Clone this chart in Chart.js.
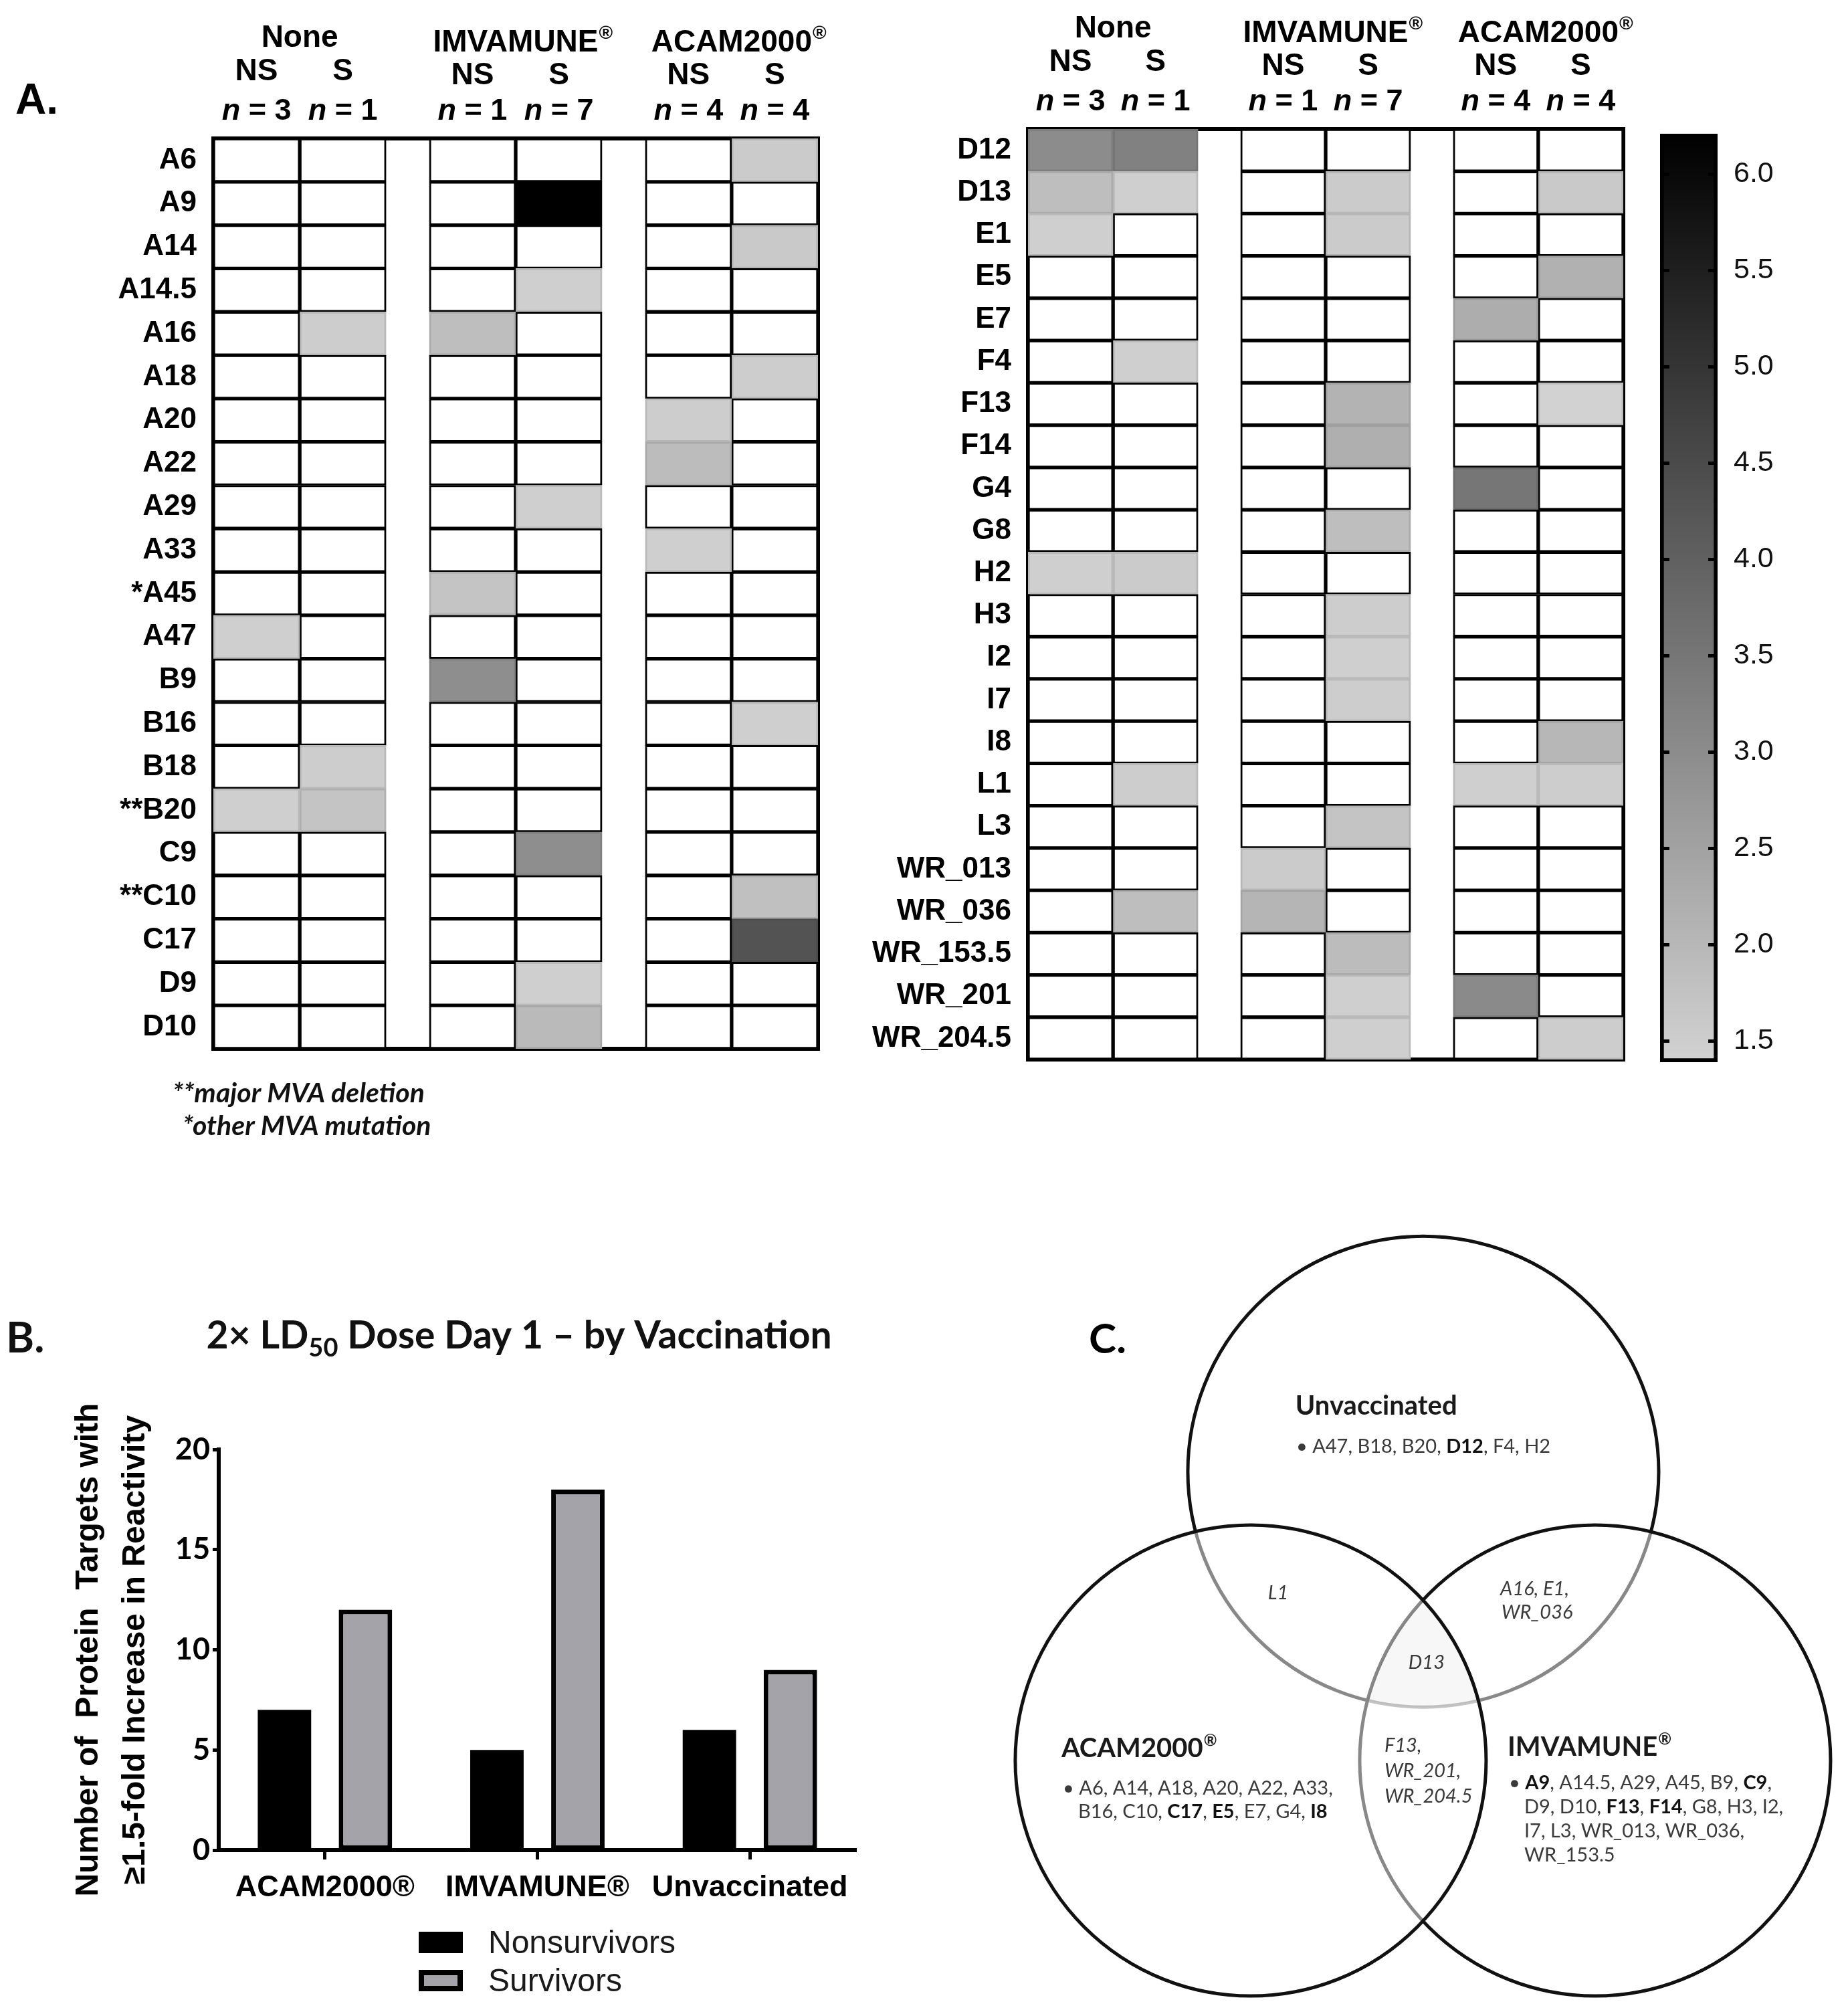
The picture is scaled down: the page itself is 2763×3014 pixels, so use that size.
<!DOCTYPE html>
<html>
<head>
<meta charset="utf-8">
<script src="https://cdn.jsdelivr.net/npm/chart.js@4.4.1/dist/chart.umd.min.js"></script>
<style>
  html, body { margin: 0; padding: 0; background: #ffffff; }
  #page { position: relative; width: 2763px; height: 3014px; background: #ffffff; overflow: hidden; }
  canvas { position: absolute; }
</style>
</head>
<body>
<div id="page">
  <canvas id="hmL" width="1300" height="1760" style="left:0px;top:0px;width:1300px;height:1760px"></canvas>
  <canvas id="hmR" width="1160" height="1760" style="left:1300px;top:0px;width:1160px;height:1760px"></canvas>
  <canvas id="cbar" width="323" height="1500" style="left:2440px;top:150px;width:323px;height:1500px"></canvas>
  <canvas id="barB" width="1400" height="1164" style="left:0px;top:1850px;width:1400px;height:1164px"></canvas>
  <canvas id="venn" width="1313" height="1214" style="left:1450px;top:1800px;width:1313px;height:1214px"></canvas>
</div>
<script>
// ---------------- DATA ----------------
// Panel A: fold increase in reactivity (null = below the 1.5-fold cut-off)
const groupNames   = ['None', 'IMVAMUNE', 'ACAM2000'];
const groupHasReg  = [false, true, true];
const outcomeLabels = ['NS', 'S', 'NS', 'S', 'NS', 'S'];
const groupSizes   = [3, 1, 1, 7, 4, 4];

const leftRows = ['A6','A9','A14','A14.5','A16','A18','A20','A22','A29','A33','*A45','A47','B9','B16','B18','**B20','C9','**C10','C17','D9','D10'];
const leftNoneNS = [null,null,null,null,null, null,null,null,null,null, null,1.45,null,null,null, 1.45,null,null,null,null, null];
const leftNoneS  = [null,null,null,null,1.5,  null,null,null,null,null, null,null,null,null,1.5,  1.7,null,null,null,null,  null];
const leftImvNS  = [null,null,null,null,1.85, null,null,null,null,null, 1.7,null,2.95,null,null, null,null,null,null,null, null];
const leftImvS   = [null,6.2,null,1.45,null,  null,null,null,1.45,null, null,null,null,null,null, null,2.95,null,null,1.45, 1.95];
const leftAcamNS = [null,null,null,null,null, null,1.5,1.9,null,1.45,   null,null,null,null,null, null,null,null,null,null, null];
const leftAcamS  = [1.55,null,1.6,null,null,  1.5,null,null,null,null,  null,null,null,1.45,null, null,null,1.8,4.3,null,  null];

const rightRows = ['D12','D13','E1','E5','E7','F4','F13','F14','G4','G8','H2','H3','I2','I7','I8','L1','L3','WR_013','WR_036','WR_153.5','WR_201','WR_204.5'];
const rightNoneNS = [3.0,1.85,1.45,null,null, null,null,null,null,null, 1.45,null,null,null,null, null,null,null,null,null, null,null];
const rightNoneS  = [3.25,1.45,null,null,null, 1.45,null,null,null,null, 1.55,null,null,null,null, 1.5,null,null,1.85,null, null,null];
const rightImvNS  = [null,null,null,null,null, null,null,null,null,null, null,null,null,null,null, null,null,1.55,2.05,null, null,null];
const rightImvS   = [null,1.55,1.55,null,null, null,2.1,2.2,null,1.85, null,1.5,1.45,1.5,null, null,1.7,null,null,1.9, 1.45,1.45];
const rightAcamNS = [null,null,null,null,2.25, null,null,null,3.5,null, null,null,null,null,null, 1.45,null,null,null,null, 3.05,null];
const rightAcamS  = [null,1.6,null,2.15,null, null,1.4,null,null,null, null,null,null,null,2.0, 1.5,null,null,null,null, null,1.5];

const scaleMin = 1.39, scaleMax = 6.21;
const colorbarStep = 0.5;
const footNotes = ['**major MVA deletion', '*other MVA mutation'];

// Panel B
const barCategories = ['ACAM2000®', 'IMVAMUNE®', 'Unvaccinated'];
const nonsurvivors  = [7, 5, 6];
const survivors     = [12, 18, 9];
const barTitleParts = ['2× LD', '50', ' Dose Day 1 – by Vaccination'];
const barYTitle     = ['Number of  Protein  Targets with', '≥1.5-fold Increase in Reactivity'];

// Panel C (Venn)
const vennSets       = ['Unvaccinated', 'IMVAMUNE', 'ACAM2000'];
const vennUnvacOnly  = ['• A47, B18, B20, |D12|, F4, H2'];
const vennAcamOnly   = ['• A6, A14, A18, A20, A22, A33,', 'B16, C10, |C17|, |E5|, E7, G4, |I8|'];
const vennImvOnly    = ['• |A9|, A14.5, A29, A45, B9, |C9|,', 'D9, D10, |F13|, |F14|, G8, H3, I2,', 'I7, L3, WR_013, WR_036,', 'WR_153.5'];
const vennUnvacAcam  = ['L1'];
const vennUnvacImv   = ['A16, E1,', 'WR_036'];
const vennAcamImv    = ['F13,', 'WR_201,', 'WR_204.5'];
const vennAll        = ['D13'];

// ---------------- LAYOUT (not data) ----------------
const colSlots = [0, 1, 2.5, 3.5, 5, 6];
const ARIAL = "'Liberation Sans', Arial, sans-serif";
const LATO = "Lato, 'Open Sans', sans-serif";

function grayLevel(v) {
  const t = Math.min(1, Math.max(0, (v - scaleMin) / (scaleMax - scaleMin)));
  return Math.round(210 * (1 - t));
}
function grayFor(v) { const g = grayLevel(v); return `rgb(${g},${g},${g})`; }
function grayEdge(v) { const g = Math.round(grayLevel(v) * 0.9); return `rgb(${g},${g},${g})`; }

function drawWithReg(ctx, text, reg, cx, y, size, font, align) {
  ctx.font = font;
  const w = ctx.measureText(text).width;
  const x0 = align === 'left' ? cx : cx - w / 2;
  ctx.textAlign = 'left';
  ctx.fillText(text, x0, y);
  if (reg) {
    const f2 = font.replace(/\d+px/, Math.round(size * 0.6) + 'px');
    ctx.font = f2;
    ctx.fillText('®', x0 + w + 1, y - size * 0.42);
  }
}
function drawN(ctx, n, cx, y, size) {
  const f1 = `italic bold ${size}px ${ARIAL}`, f2 = `bold ${size}px ${ARIAL}`;
  ctx.font = f1; const w1 = ctx.measureText('n').width;
  const rest = ' = ' + n;
  ctx.font = f2; const w2 = ctx.measureText(rest).width;
  const x0 = cx - (w1 + w2) / 2;
  ctx.textAlign = 'left';
  ctx.font = f1; ctx.fillText('n', x0, y);
  ctx.font = f2; ctx.fillText(rest, x0 + w1, y);
}

const framePlugin = {
  id: 'hmFrame',
  beforeDatasetsDraw(chart) {
    const { ctx, chartArea: a } = chart;
    ctx.save();
    ctx.strokeStyle = '#000'; ctx.lineWidth = 6;
    ctx.strokeRect(a.left, a.top, a.right - a.left, a.bottom - a.top);
    ctx.restore();
  }
};
const headerPlugin = {
  id: 'hmHeader',
  afterDraw(chart, args, opts) {
    const { ctx, chartArea: a, scales: { x } } = chart;
    ctx.save();
    ctx.fillStyle = '#000';
    ctx.textBaseline = 'alphabetic';
    groupNames.forEach((g, i) => {
      const cx = x.getPixelForValue((colSlots[2 * i] + colSlots[2 * i + 1] + 1) / 2);
      drawWithReg(ctx, g, groupHasReg[i], cx, a.top - 130 - (groupHasReg[i] ? 0 : 7), 46, `bold 46px ${ARIAL}`);
    });
    outcomeLabels.forEach((s, k) => {
      const cx = x.getPixelForValue(colSlots[k] + 0.5);
      ctx.font = `bold 46px ${ARIAL}`; ctx.textAlign = 'center';
      ctx.fillText(s, cx, a.top - 81 - (k < 2 ? 6 : 0));
      drawN(ctx, groupSizes[k], cx, a.top - 28, 45);
    });
    if (opts.panel) {
      ctx.font = `bold 64px ${ARIAL}`; ctx.textAlign = 'left';
      ctx.fillText(opts.panel, 23, 170);
    }
    if (opts.notes) {
      ctx.font = `italic bold 41px ${LATO}`; ctx.textAlign = 'left';
      ctx.fillStyle = '#111';
      ctx.fillText(opts.notes[0], 258, a.bottom + 80);
      ctx.fillText(opts.notes[1], 273, a.bottom + 129);
    }
    ctx.restore();
  }
};

function makeHeatmap(id, rows, cols, pad, yWidth, extra) {
  return new Chart(document.getElementById(id), {
    type: 'bar',
    data: {
      labels: rows,
      datasets: cols.map((vals, k) => ({
        label: outcomeLabels[k],
        data: rows.map(() => [colSlots[k], colSlots[k] + 1]),
        backgroundColor: vals.map(v => v == null ? '#ffffff' : grayFor(v)),
        borderColor: vals.map(v => v == null ? '#000000' : grayEdge(v)),
        borderWidth: 3,
        borderSkipped: false,
        grouped: false,
        barPercentage: 1,
        categoryPercentage: 1
      }))
    },
    options: {
      indexAxis: 'y',
      responsive: false, devicePixelRatio: 1, animation: false, events: [],
      layout: { padding: pad },
      scales: {
        x: { type: 'linear', min: 0, max: 7, display: false },
        y: {
          type: 'category', offset: true,
          ticks: { autoSkip: false, color: '#000', padding: 25, font: { family: ARIAL, weight: 'bold', size: 44 } },
          grid: { display: false, drawTicks: false },
          border: { display: false },
          afterFit: s => { s.width = yWidth; }
        }
      },
      plugins: { legend: { display: false }, tooltip: { enabled: false }, hmHeader: extra }
    },
    plugins: [framePlugin, headerPlugin]
  });
}

makeHeatmap('hmL', leftRows, [leftNoneNS, leftNoneS, leftImvNS, leftImvS, leftAcamNS, leftAcamS],
  { left: 0, top: 207, right: 77, bottom: 192 }, 319, { panel: 'A.', notes: footNotes });
makeHeatmap('hmR', rightRows, [rightNoneNS, rightNoneS, rightImvNS, rightImvS, rightAcamNS, rightAcamS],
  { left: 0, top: 193, right: 33, bottom: 176 }, 237, {});

// ---------------- Colour bar ----------------
new Chart(document.getElementById('cbar'), {
  type: 'bar',
  data: {
    labels: ['fold'],
    datasets: [{
      data: [[scaleMin, scaleMax]],
      backgroundColor: (c) => {
        const ch = c.chart;
        if (!ch.chartArea) return '#aaa';
        const y = ch.scales.y;
        const g = ch.ctx.createLinearGradient(0, y.getPixelForValue(scaleMin), 0, y.getPixelForValue(scaleMax));
        g.addColorStop(0, grayFor(scaleMin));
        g.addColorStop(1, grayFor(scaleMax));
        return g;
      },
      borderColor: '#000', borderWidth: 6, borderSkipped: false,
      barPercentage: 1, categoryPercentage: 1
    }]
  },
  options: {
    responsive: false, devicePixelRatio: 1, animation: false, events: [],
    layout: { padding: { left: 42, top: 42, right: 0, bottom: 62 } },
    scales: {
      x: { display: false },
      y: {
        position: 'right', min: scaleMin, max: scaleMax,
        ticks: { stepSize: colorbarStep, includeBounds: false, color: '#111', padding: 24,
          font: { family: ARIAL, size: 43 }, callback: v => Number(v).toFixed(1) },
        grid: { drawOnChartArea: true, drawTicks: false, color: '#000', lineWidth: 5, z: 1 },
        border: { display: false, dash: [14, 58] },
        afterFit: s => { s.width = 195; }
      }
    },
    plugins: { legend: { display: false }, tooltip: { enabled: false } }
  }
});

// ---------------- Panel B ----------------
const barDeco = {
  id: 'barDeco',
  afterDraw(chart) {
    const { ctx } = chart;
    ctx.save();
    ctx.fillStyle = '#111';
    ctx.textBaseline = 'alphabetic';
    ctx.font = `bold 64px ${LATO}`; ctx.textAlign = 'left';
    ctx.fillText('B.', 9, 172);
    const big = `bold 57px ${LATO}`, small = `bold 38px ${LATO}`;
    ctx.font = big; const w0 = ctx.measureText(barTitleParts[0]).width;
    ctx.font = small; const w1 = ctx.measureText(barTitleParts[1]).width;
    ctx.font = big; const w2 = ctx.measureText(barTitleParts[2]).width;
    let x = 776 - (w0 + w1 + w2) / 2;
    ctx.font = big; ctx.fillText(barTitleParts[0], x, 166); x += w0;
    ctx.font = small; ctx.fillText(barTitleParts[1], x, 178); x += w1;
    ctx.font = big; ctx.fillText(barTitleParts[2], x, 166);
    chart.data.datasets.forEach((ds, i) => {
      const bx = 626, by = 1038 + i * 57, bw = 66, bh = 32;
      ctx.fillStyle = ds.borderWidth ? ds.borderColor : ds.backgroundColor;
      ctx.fillRect(bx, by, bw, bh);
      if (ds.borderWidth) {
        ctx.fillStyle = ds.backgroundColor;
        ctx.fillRect(bx + 8, by + 8, bw - 16, bh - 16);
      }
      ctx.fillStyle = '#1a1a1a';
      ctx.font = `48px ${ARIAL}`;
      ctx.fillText(ds.label, 730, 1068 + i * 57 + 2);
    });
    ctx.restore();
  }
};
new Chart(document.getElementById('barB'), {
  type: 'bar',
  data: {
    labels: barCategories,
    datasets: [
      { label: 'Nonsurvivors', data: nonsurvivors, backgroundColor: '#000000', borderColor: '#000000', borderWidth: 0,
        categoryPercentage: 0.762, barPercentage: 0.66 },
      { label: 'Survivors', data: survivors, backgroundColor: '#a3a3a9', borderColor: '#000000', borderWidth: 7, borderSkipped: false,
        categoryPercentage: 0.762, barPercentage: 0.66 }
    ]
  },
  options: {
    responsive: false, devicePixelRatio: 1, animation: false, events: [],
    layout: { padding: { left: 0, top: 317, right: 120, bottom: 0 } },
    scales: {
      x: {
        grid: { drawOnChartArea: false, offset: false, drawTicks: true, tickLength: 14, tickWidth: 5, tickColor: '#000' },
        border: { display: true, color: '#000', width: 6 },
        ticks: { color: '#000', padding: 16, font: { family: ARIAL, weight: 'bold', size: 45 } },
        afterFit: s => { s.height = 248; }
      },
      y: {
        min: 0, max: 20,
        ticks: { stepSize: 5, color: '#000', padding: 4, font: { family: LATO, weight: 'bold', size: 45 } },
        grid: { drawOnChartArea: false, drawTicks: true, tickLength: 9, tickWidth: 5, tickColor: '#000' },
        border: { display: true, color: '#000', width: 6 },
        title: { display: true, text: barYTitle, color: '#000', padding: { top: 98, bottom: 0 },
          font: { family: ARIAL, weight: 'bold', size: 48, lineHeight: 1.45 } },
        afterFit: s => { s.width = 327; }
      }
    },
    plugins: { legend: { display: false }, tooltip: { enabled: false } }
  },
  plugins: [barDeco]
});

// ---------------- Panel C (Venn) ----------------
const vennXMin = -1.926, vennXMax = 1.804, vennYMin = -1.494, vennYMax = 1.955;
const vennRadius = 1;
// circle centres in diagram units, in drawing order: Unvaccinated, IMVAMUNE, ACAM2000
const vennCentersX = [0, 0.730, -0.733];
const vennCentersY = [0.818, -0.409, -0.409];

function drawRich(ctx, str, x, y, size, italic, align) {
  const parts = str.split('|');
  const fonts = parts.map((p, i) => `${italic ? 'italic ' : ''}${i % 2 ? 'bold ' : ''}${size}px ${LATO}`);
  let total = 0;
  parts.forEach((p, i) => { ctx.font = fonts[i]; total += ctx.measureText(p).width; });
  let cx = align === 'center' ? x - total / 2 : x;
  ctx.textAlign = 'left';
  parts.forEach((p, i) => {
    ctx.font = fonts[i];
    ctx.fillStyle = i % 2 ? '#111' : '#3a3a3a';
    ctx.fillText(p, cx, y);
    cx += ctx.measureText(p).width;
  });
}
const vennBlocks = [
  { lines: vennUnvacOnly, x: -0.540, y: 0.898, x2: -0.540, lh: 36, italic: false, align: 'left' },
  { lines: vennAcamOnly,  x: -1.531, y: -0.554, x2: -1.466, lh: 35, italic: false, align: 'left' },
  { lines: vennImvOnly,   x: 0.364,  y: -0.531, x2: 0.429,  lh: 36, italic: false, align: 'left' },
  { lines: vennUnvacAcam, x: -0.616, y: 0.276, x2: -0.616, lh: 36, italic: true, align: 'center' },
  { lines: vennUnvacImv,  x: 0.327,  y: 0.293, x2: 0.332,  lh: 35, italic: true, align: 'left' },
  { lines: vennAcamImv,   x: -0.165, y: -0.372, x2: -0.165, lh: 38, italic: true, align: 'left' },
  { lines: vennAll,       x: 0.014,  y: -0.020, x2: 0.014, lh: 36, italic: true, align: 'center' }
];
const vennTitlePos = [ { x: -0.543, y: 1.060 }, { x: 0.358, y: -0.389 }, { x: -1.537, y: -0.395 } ];

const vennDeco = {
  id: 'vennDeco',
  afterDatasetsDraw(chart) {
    const { ctx, scales: { x, y } } = chart;
    const r = x.getPixelForValue(vennRadius) - x.getPixelForValue(0);
    ctx.save();
    vennCentersX.forEach((cx, i) => {
      ctx.beginPath();
      ctx.arc(x.getPixelForValue(cx), y.getPixelForValue(vennCentersY[i]), r, 0, Math.PI * 2);
      ctx.clip();
    });
    ctx.fillStyle = 'rgba(0,0,0,0.03)';
    ctx.fillRect(0, 0, chart.width, chart.height);
    ctx.restore();

    ctx.save();
    ctx.textBaseline = 'alphabetic';
    ctx.fillStyle = '#000';
    ctx.font = `bold 62px ${LATO}`; ctx.textAlign = 'left';
    ctx.fillText('C.', x.getPixelForValue(-1.420), y.getPixelForValue(1.321));
    vennSets.forEach((s, i) => {
      ctx.fillStyle = '#1a1a1a';
      drawWithReg(ctx, s, i > 0, x.getPixelForValue(vennTitlePos[i].x), y.getPixelForValue(vennTitlePos[i].y), 40, `bold 40px ${LATO}`, 'left');
    });
    vennBlocks.forEach(b => {
      b.lines.forEach((ln, j) => {
        const px = x.getPixelForValue(j === 0 ? b.x : b.x2);
        const py = y.getPixelForValue(b.y) + j * b.lh;
        drawRich(ctx, ln, px, py, 29, b.italic, b.align);
      });
    });
    ctx.restore();
  }
};
new Chart(document.getElementById('venn'), {
  type: 'scatter',
  data: {
    datasets: [{
      label: 'sets',
      data: vennCentersX.map((cx, i) => ({ x: cx, y: vennCentersY[i] })),
      pointStyle: 'circle',
      pointRadius: (c) => {
        const xs = c.chart.scales.x;
        return xs.getPixelForValue(vennRadius) - xs.getPixelForValue(0);
      },
      pointBackgroundColor: 'rgba(255,255,255,0.5)',
      pointBorderColor: '#111',
      pointBorderWidth: 5,
      clip: false
    }]
  },
  options: {
    responsive: false, devicePixelRatio: 1, animation: false, events: [],
    layout: { padding: 0 },
    scales: {
      x: { type: 'linear', min: vennXMin, max: vennXMax, display: false },
      y: { type: 'linear', min: vennYMin, max: vennYMax, display: false }
    },
    plugins: { legend: { display: false }, tooltip: { enabled: false } }
  },
  plugins: [vennDeco]
});
</script>
</body>
</html>
